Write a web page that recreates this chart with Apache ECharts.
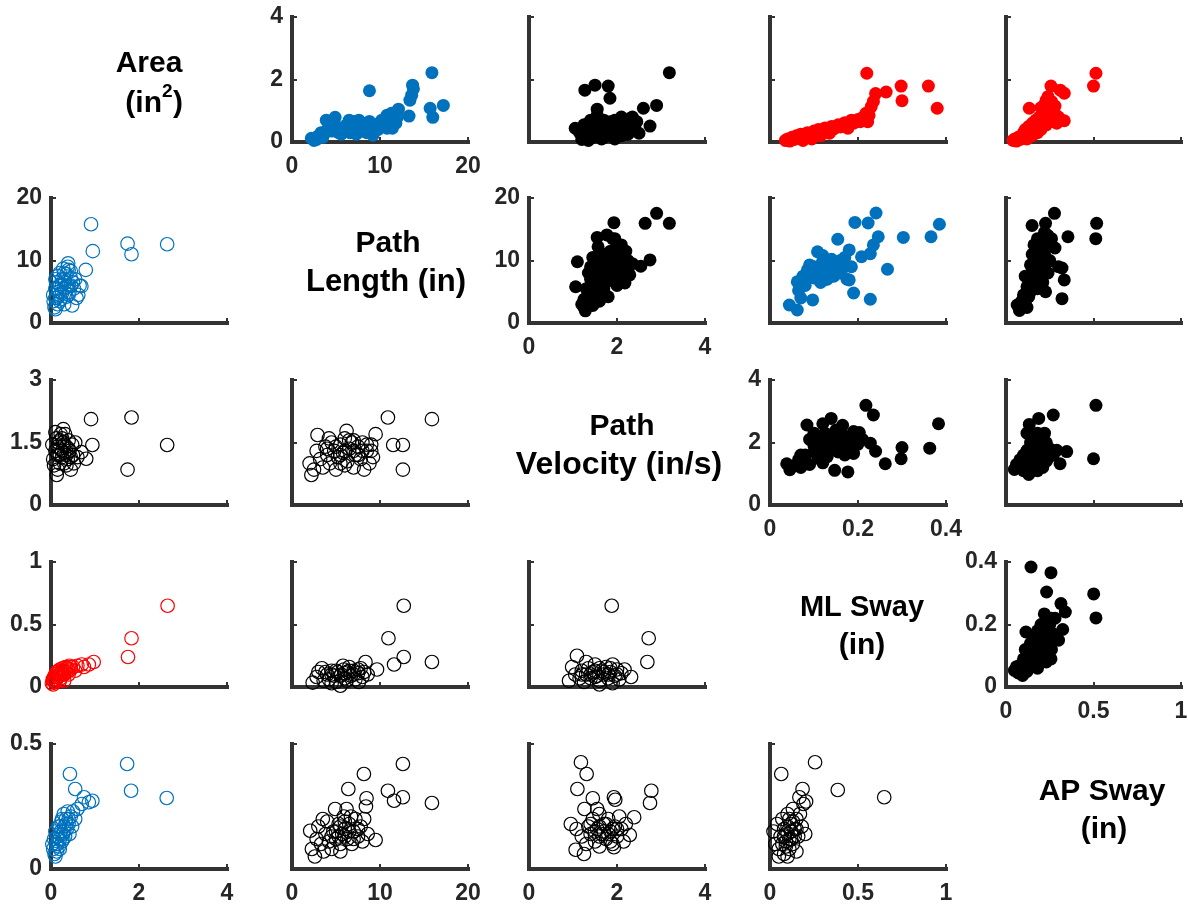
<!DOCTYPE html>
<html><head><meta charset="utf-8">
<script src="https://cdn.jsdelivr.net/npm/echarts@6/dist/echarts.min.js"></script>
<style>html,body{margin:0;padding:0;background:#fff}#c{width:1188px;height:907px}</style>
</head><body><div id="c"></div>
<script>
// ---- variable names (diagonal) ----
const varNames = [['Area', '(in', '2', ')'], ['Path', 'Length (in)'], ['Path', 'Velocity (in/s)'], ['ML Sway', '(in)'], ['AP Sway', '(in)']];

// ---- upper triangle (filled) : [x, y] ----
const p12 = [[2.2,0.12],[2.5,0.05],[2.8,0.08],[3.0,0.2],[3.3,0.3],[3.5,0.15],[3.9,0.7],[4.2,0.45],[4.5,0.35],[4.9,0.79],[5.0,0.5],[5.3,0.3],[5.6,0.25],[5.9,0.45],[6.2,0.55],[6.5,0.7],[6.6,0.3],[6.9,0.45],[7.1,0.66],[7.3,0.25],[7.5,0.5],[7.6,0.7],[7.9,0.35],[8.0,0.6],[8.3,0.45],[8.5,0.3],[8.8,0.66],[8.8,1.64],[9.0,0.45],[9.2,0.22],[9.5,0.55],[10.0,0.6],[10.4,0.5],[10.8,0.86],[10.8,0.44],[11.3,0.92],[11.4,0.44],[11.5,0.7],[12.1,1.05],[13.3,0.83],[13.4,1.34],[13.6,1.5],[13.8,1.7],[13.7,1.82],[15.7,1.08],[15.9,2.22],[16.0,0.79],[17.2,1.17],[4.0,0.4],[4.8,0.55],[5.5,0.45],[6.0,0.35],[6.8,0.55],[7.2,0.4],[8.2,0.55],[9.8,0.4],[10.2,0.7],[12.0,0.8],[11.8,0.6]];
const p13 = [[1.05,0.44],[1.15,0.3],[1.2,0.08],[1.27,1.66],[1.3,0.2],[1.35,0.05],[1.4,0.4],[1.45,0.15],[1.5,0.6],[1.5,1.82],[1.55,1.05],[1.55,0.3],[1.6,0.5],[1.65,0.1],[1.7,0.7],[1.75,0.35],[1.8,1.79],[1.8,0.55],[1.84,1.4],[1.85,0.2],[1.9,0.45],[1.95,0.7],[2.0,0.3],[2.05,0.6],[2.1,0.8],[2.15,0.4],[2.2,0.65],[2.25,0.25],[2.3,0.75],[2.4,0.5],[2.5,0.28],[2.6,1.08],[2.75,0.51],[2.9,1.17],[3.19,2.22],[1.25,0.55],[1.7,0.15],[1.95,0.1],[2.35,0.8],[1.3,0.35],[1.45,0.5],[1.6,0.25],[1.75,0.5],[1.85,0.65],[2.0,0.45],[2.1,0.2],[2.2,0.5],[2.3,0.35],[2.45,0.65],[1.4,0.7],[1.55,0.85]];
const p14 = [[0.035,0.05],[0.04,0.1],[0.045,0.03],[0.05,0.15],[0.055,0.08],[0.06,0.2],[0.065,0.12],[0.07,0.25],[0.075,0.05],[0.08,0.18],[0.085,0.3],[0.09,0.2],[0.1,0.35],[0.105,0.25],[0.11,0.4],[0.12,0.3],[0.125,0.45],[0.13,0.38],[0.14,0.5],[0.145,0.42],[0.155,0.55],[0.16,0.48],[0.17,0.62],[0.175,0.55],[0.177,0.44],[0.185,0.7],[0.19,0.6],[0.2,0.72],[0.205,0.65],[0.21,0.78],[0.218,0.92],[0.222,0.65],[0.225,0.85],[0.23,1.13],[0.235,1.3],[0.24,1.55],[0.22,2.2],[0.264,1.6],[0.298,1.79],[0.30,1.32],[0.36,1.79],[0.38,1.08],[0.095,0.1],[0.115,0.2],[0.135,0.28]];
const p15 = [[0.04,0.05],[0.05,0.1],[0.06,0.03],[0.07,0.15],[0.08,0.08],[0.09,0.2],[0.1,0.12],[0.1,0.3],[0.11,0.4],[0.12,0.25],[0.13,0.5],[0.133,1.08],[0.14,0.35],[0.15,0.6],[0.16,0.45],[0.17,0.7],[0.18,0.3],[0.18,0.55],[0.19,0.8],[0.2,0.65],[0.2,0.4],[0.21,0.9],[0.22,0.75],[0.22,1.0],[0.23,1.34],[0.23,0.55],[0.24,1.24],[0.24,0.85],[0.25,1.1],[0.25,0.65],[0.26,0.95],[0.257,1.79],[0.27,0.75],[0.28,0.9],[0.29,0.6],[0.3,0.8],[0.31,1.66],[0.333,1.56],[0.333,0.68],[0.5,1.79],[0.514,2.2],[0.15,0.2],[0.12,0.1],[0.2,1.1],[0.22,1.2],[0.24,1.45],[0.26,1.3],[0.28,1.15],[0.27,1.0]];
const p23 = [[1.06,5.8],[1.1,9.8],[1.2,3.0],[1.25,2.5],[1.28,1.95],[1.3,4.0],[1.35,3.2],[1.4,5.0],[1.4,7.0],[1.45,2.8],[1.5,6.0],[1.5,8.5],[1.55,13.7],[1.55,4.5],[1.57,12.2],[1.6,7.5],[1.6,3.5],[1.65,9.5],[1.7,5.5],[1.7,8.0],[1.75,6.5],[1.77,14.1],[1.8,10.0],[1.8,4.2],[1.85,7.0],[1.9,11.0],[1.9,8.5],[1.93,16.05],[1.95,13.5],[1.95,9.5],[2.0,12.0],[2.0,6.0],[2.05,10.5],[2.1,8.0],[2.15,11.0],[2.18,6.4],[2.2,9.0],[2.25,10.0],[2.29,7.7],[2.35,9.5],[2.54,9.1],[2.64,15.95],[2.75,10.1],[2.9,17.55],[3.19,15.95],[1.45,10.5],[1.35,8.0],[1.3,5.5],[1.5,4.0],[1.6,6.0],[1.65,7.0],[1.75,9.0],[1.85,11.5],[2.0,9.0],[2.05,7.5],[2.1,12.5],[1.7,11.0],[1.4,9.0],[1.25,3.8],[2.2,11.5],[1.9,13.5]];
const p24 = [[0.044,2.88],[0.062,2.08],[0.062,6.6],[0.065,5.2],[0.07,4.0],[0.075,7.5],[0.08,6.0],[0.085,8.5],[0.09,9.3],[0.097,3.7],[0.1,7.2],[0.105,8.0],[0.108,11.4],[0.11,9.0],[0.115,6.5],[0.12,10.0],[0.123,6.9],[0.13,8.5],[0.135,9.5],[0.14,10.2],[0.145,7.5],[0.15,9.0],[0.154,13.4],[0.16,8.0],[0.165,9.5],[0.17,10.5],[0.175,7.0],[0.18,11.7],[0.18,6.9],[0.185,9.0],[0.19,4.8],[0.193,16.1],[0.208,10.6],[0.223,16],[0.228,11.1],[0.228,3.8],[0.235,12.5],[0.241,17.6],[0.246,13.8],[0.267,8.6],[0.303,13.7],[0.366,13.8],[0.385,15.8],[0.09,7.5],[0.1,9.0],[0.12,8.5],[0.13,7.0],[0.14,9.5],[0.16,10.0],[0.17,9.0],[0.12,10.8],[0.08,7.0],[0.15,8.2]];
const p25 = [[0.064,2.88],[0.077,2.0],[0.09,3.5],[0.1,4.5],[0.11,3.0],[0.12,5.8],[0.13,7.0],[0.13,4.2],[0.14,9.3],[0.15,8.0],[0.149,15.6],[0.15,6.0],[0.16,10.5],[0.17,7.5],[0.17,11.5],[0.18,9.0],[0.19,12.0],[0.19,8.0],[0.2,10.0],[0.21,13.0],[0.21,6.5],[0.22,11.0],[0.226,5.0],[0.226,15.95],[0.23,12.5],[0.24,14.0],[0.25,10.0],[0.26,13.5],[0.277,17.55],[0.28,12.0],[0.3,9.0],[0.32,8.8],[0.32,3.9],[0.333,6.9],[0.354,13.8],[0.513,13.5],[0.518,15.95],[0.12,2.5],[0.18,5.5],[0.24,8.0],[0.15,11],[0.16,12.5],[0.17,9.5],[0.18,13.5],[0.2,11.5],[0.22,14.5],[0.14,5.0],[0.16,6.8],[0.19,10.5],[0.23,9.5],[0.11,7.5]];
const p34 = [[0.038,1.32],[0.045,1.13],[0.055,1.25],[0.065,1.45],[0.07,1.2],[0.08,1.6],[0.084,2.56],[0.09,2.1],[0.09,1.3],[0.1,1.9],[0.1,2.3],[0.11,1.5],[0.115,2.0],[0.12,1.75],[0.125,2.3],[0.13,1.55],[0.135,2.1],[0.139,2.77],[0.14,1.85],[0.147,1.11],[0.15,2.4],[0.155,1.7],[0.16,2.0],[0.165,2.55],[0.17,1.6],[0.177,1.06],[0.18,1.9],[0.185,2.2],[0.19,1.65],[0.2,1.95],[0.203,2.32],[0.21,2.1],[0.218,3.19],[0.228,1.98],[0.235,2.88],[0.24,1.72],[0.262,1.32],[0.298,1.48],[0.30,1.84],[0.363,1.82],[0.383,2.6],[0.07,1.6],[0.12,2.6],[0.1,1.7],[0.11,2.2],[0.13,1.9],[0.15,2.1],[0.16,1.8],[0.18,2.05],[0.19,2.35],[0.14,2.2],[0.08,1.4],[0.12,1.35],[0.17,2.2],[0.2,2.15]];
const p35 = [[0.048,1.14],[0.06,1.3],[0.07,1.2],[0.08,1.45],[0.09,1.35],[0.1,1.6],[0.1,1.1],[0.11,1.5],[0.12,1.75],[0.13,0.98],[0.13,1.3],[0.133,2.58],[0.14,2.0],[0.14,1.6],[0.15,1.85],[0.15,2.2],[0.16,1.4],[0.17,2.0],[0.17,1.7],[0.18,2.3],[0.187,2.77],[0.19,1.5],[0.2,1.9],[0.2,2.2],[0.21,1.2],[0.22,1.7],[0.23,2.0],[0.24,1.5],[0.25,1.8],[0.27,2.88],[0.27,1.6],[0.29,1.75],[0.309,1.32],[0.347,1.71],[0.5,1.48],[0.514,3.19],[0.18,1.1],[0.12,2.3],[0.12,1.5],[0.14,1.8],[0.16,1.9],[0.16,2.1],[0.18,1.6],[0.19,2.05],[0.21,1.8],[0.22,2.3],[0.15,1.25],[0.2,1.4],[0.23,1.4]];
const p45 = [[0.048,0.053],[0.06,0.065],[0.07,0.045],[0.08,0.07],[0.095,0.037],[0.1,0.09],[0.11,0.12],[0.114,0.176],[0.12,0.08],[0.13,0.1],[0.14,0.14],[0.143,0.384],[0.15,0.11],[0.16,0.16],[0.17,0.07],[0.17,0.13],[0.18,0.18],[0.19,0.1],[0.2,0.15],[0.2,0.2],[0.21,0.12],[0.219,0.234],[0.22,0.17],[0.23,0.08],[0.232,0.304],[0.24,0.14],[0.25,0.2],[0.257,0.366],[0.257,0.09],[0.26,0.12],[0.27,0.17],[0.28,0.22],[0.3,0.15],[0.314,0.267],[0.324,0.184],[0.339,0.24],[0.501,0.298],[0.514,0.221],[0.15,0.07],[0.16,0.09],[0.18,0.12],[0.19,0.15],[0.2,0.1],[0.21,0.17],[0.22,0.13],[0.23,0.2],[0.24,0.1],[0.25,0.16],[0.26,0.22],[0.18,0.06],[0.12,0.05]];

// ---- lower triangle (open) : [x, y] ----
const p21 = [[0.05,4.5],[0.06,3.5],[0.08,2.5],[0.1,5.5],[0.1,2.2],[0.12,6.5],[0.13,4.0],[0.15,3.0],[0.15,7.5],[0.18,5.0],[0.2,8.0],[0.2,6.0],[0.22,3.8],[0.25,7.0],[0.25,4.8],[0.28,8.7],[0.3,5.5],[0.3,3.0],[0.32,6.5],[0.35,7.8],[0.35,4.2],[0.38,9.0],[0.39,9.55],[0.4,6.0],[0.42,5.0],[0.45,7.2],[0.45,8.3],[0.48,2.8],[0.5,6.5],[0.52,5.5],[0.55,7.0],[0.58,4.0],[0.62,4.5],[0.65,6.0],[0.69,5.9],[0.79,8.5],[0.91,15.8],[0.95,11.5],[1.74,12.7],[1.83,11.0],[2.64,12.6],[0.1,7.0],[0.2,3.5],[0.3,8.0],[0.15,5.5],[0.25,6.2],[0.3,7.0],[0.35,5.8],[0.4,8.5],[0.45,6.0],[0.2,4.5],[0.1,4.0],[0.4,4.5]];
const p31 = [[0.03,1.45],[0.05,1.1],[0.07,0.95],[0.1,1.3],[0.12,1.6],[0.13,0.72],[0.15,1.2],[0.17,1.5],[0.2,1.0],[0.2,1.35],[0.22,1.7],[0.25,1.15],[0.28,1.82],[0.28,1.5],[0.3,1.25],[0.32,1.7],[0.35,1.4],[0.35,0.95],[0.38,1.1],[0.4,1.55],[0.42,1.3],[0.45,0.85],[0.48,1.45],[0.5,1.2],[0.52,1.0],[0.55,1.5],[0.6,1.15],[0.69,1.27],[0.8,1.11],[0.91,2.06],[0.94,1.44],[1.74,0.85],[1.83,2.1],[2.64,1.44],[0.15,0.85],[0.25,1.6],[0.1,1.75],[0.15,1.4],[0.2,1.55],[0.25,1.3],[0.3,1.45],[0.35,1.2],[0.3,1.0],[0.4,1.35],[0.45,1.15],[0.2,1.2]];
const p32 = [[2.0,1.0],[2.2,0.72],[2.5,0.85],[2.8,1.3],[2.9,1.68],[3.2,1.1],[3.5,0.9],[3.8,1.4],[4.0,1.2],[4.3,1.0],[4.5,1.5],[4.8,1.3],[5.0,0.85],[5.2,1.15],[5.5,1.45],[5.8,1.25],[6.0,1.6],[6.2,1.78],[6.3,1.05],[6.5,1.35],[6.8,1.5],[7.0,0.9],[7.2,1.2],[7.5,1.4],[7.8,1.1],[8.0,1.5],[8.2,0.85],[8.5,1.3],[8.8,1.0],[9.0,1.45],[9.2,1.15],[9.5,1.7],[10.9,2.1],[11.5,1.44],[12.6,1.44],[12.6,0.85],[15.9,2.06],[4.2,1.6],[6.0,0.95],[4.0,1.35],[5.0,1.4],[5.5,1.2],[6.0,1.3],[6.5,1.55],[7.0,1.3],[7.5,1.2],[8.0,1.3],[8.5,1.45],[5.5,1.0],[7.0,1.55],[9.0,1.3]];
const p41 = [[0.02,0.03],[0.04,0.06],[0.05,0.02],[0.07,0.08],[0.08,0.04],[0.1,0.1],[0.12,0.06],[0.13,0.12],[0.15,0.08],[0.17,0.13],[0.18,0.1],[0.2,0.14],[0.22,0.07],[0.24,0.12],[0.26,0.15],[0.28,0.1],[0.3,0.13],[0.33,0.16],[0.35,0.12],[0.38,0.15],[0.4,0.1],[0.42,0.17],[0.45,0.14],[0.5,0.16],[0.55,0.13],[0.6,0.17],[0.7,0.18],[0.75,0.16],[0.86,0.18],[0.97,0.2],[1.75,0.24],[1.83,0.39],[2.65,0.65],[0.1,0.04],[0.3,0.05],[0.15,0.11],[0.2,0.09],[0.25,0.13],[0.3,0.1],[0.35,0.15],[0.4,0.13],[0.45,0.16],[0.2,0.05],[0.05,0.05]];
const p42 = [[2.35,0.035],[2.8,0.08],[3.0,0.12],[3.4,0.15],[3.6,0.05],[4.0,0.1],[4.2,0.06],[4.5,0.13],[4.8,0.09],[5.0,0.04],[5.2,0.12],[5.5,0.01],[5.6,0.1],[5.9,0.14],[6.0,0.07],[6.3,0.12],[6.5,0.16],[6.7,0.09],[7.0,0.13],[7.2,0.06],[7.5,0.11],[7.8,0.15],[8.0,0.08],[8.35,0.2],[8.2,0.12],[8.6,0.1],[9.66,0.14],[10.96,0.39],[11.6,0.18],[12.7,0.24],[12.7,0.65],[15.9,0.2],[5.8,0.17],[4.5,0.03],[7.6,0.04],[4.5,0.1],[5.0,0.13],[5.5,0.09],[6.0,0.11],[6.5,0.13],[7.0,0.1],[7.5,0.14],[6.2,0.05],[3.8,0.12]];
const p43 = [[0.91,0.05],[0.98,0.16],[1.05,0.1],[1.09,0.25],[1.15,0.07],[1.2,0.13],[1.25,0.04],[1.3,0.1],[1.35,0.15],[1.4,0.07],[1.45,0.12],[1.5,0.18],[1.55,0.09],[1.6,0.05],[1.65,0.13],[1.7,0.1],[1.75,0.16],[1.8,0.07],[1.85,0.12],[1.9,0.03],[1.9,0.18],[1.95,0.09],[2.0,0.14],[2.05,0.06],[2.1,0.11],[2.17,0.14],[2.32,0.08],[2.69,0.2],[2.72,0.39],[1.88,0.65],[1.3,0.2],[1.6,0.02],[1.4,0.1],[1.5,0.13],[1.6,0.15],[1.7,0.12],[1.8,0.1],[1.85,0.15],[1.5,0.08],[2.0,0.1],[1.2,0.1]];
const p51 = [[0.03,0.1],[0.05,0.08],[0.07,0.12],[0.08,0.06],[0.1,0.15],[0.12,0.1],[0.13,0.07],[0.15,0.13],[0.17,0.17],[0.18,0.09],[0.2,0.12],[0.22,0.15],[0.24,0.19],[0.25,0.11],[0.27,0.14],[0.29,0.22],[0.3,0.17],[0.32,0.13],[0.34,0.2],[0.36,0.16],[0.38,0.23],[0.4,0.18],[0.42,0.14],[0.45,0.21],[0.48,0.17],[0.5,0.23],[0.55,0.2],[0.55,0.32],[0.43,0.38],[0.6,0.24],[0.7,0.26],[0.75,0.287],[0.86,0.267],[0.94,0.273],[1.73,0.42],[1.82,0.313],[2.63,0.284],[0.1,0.05],[0.2,0.08],[0.2,0.17],[0.25,0.2],[0.3,0.15],[0.35,0.18],[0.28,0.12],[0.15,0.1],[0.4,0.2],[0.2,0.14]];
const p52 = [[2.07,0.153],[2.26,0.08],[2.6,0.05],[2.8,0.12],[3.0,0.17],[3.3,0.1],[3.6,0.07],[3.8,0.14],[4.0,0.19],[4.2,0.11],[4.5,0.08],[4.7,0.15],[4.9,0.24],[5.0,0.12],[5.3,0.18],[5.5,0.1],[5.7,0.14],[5.9,0.21],[6.0,0.16],[6.2,0.24],[6.3,0.12],[6.4,0.32],[6.5,0.18],[6.8,0.1],[7.0,0.15],[7.2,0.2],[7.5,0.13],[7.8,0.17],[8.0,0.11],[8.17,0.38],[8.2,0.2],[8.4,0.25],[8.47,0.283],[8.6,0.14],[9.5,0.116],[10.9,0.313],[11.6,0.273],[12.6,0.287],[12.6,0.42],[15.9,0.264],[5.5,0.07],[3.5,0.2],[5.0,0.15],[5.5,0.17],[6.0,0.13],[6.5,0.15],[7.0,0.12],[7.5,0.16],[6.0,0.19],[5.3,0.13],[6.7,0.21],[4.5,0.13]];
const p53 = [[0.95,0.18],[1.06,0.077],[1.08,0.16],[1.1,0.32],[1.18,0.427],[1.2,0.13],[1.26,0.24],[1.3,0.1],[1.31,0.38],[1.35,0.17],[1.4,0.14],[1.45,0.283],[1.45,0.2],[1.5,0.11],[1.55,0.16],[1.6,0.22],[1.6,0.09],[1.65,0.14],[1.7,0.18],[1.75,0.12],[1.8,0.2],[1.85,0.15],[1.9,0.1],[1.93,0.287],[1.93,0.087],[1.96,0.277],[1.95,0.17],[2.0,0.13],[2.05,0.21],[2.1,0.16],[2.15,0.11],[2.2,0.18],[2.29,0.136],[2.39,0.207],[2.75,0.264],[2.78,0.313],[1.55,0.24],[1.25,0.06],[1.5,0.15],[1.6,0.13],[1.7,0.15],[1.8,0.14],[1.9,0.16],[1.75,0.18],[2.0,0.16],[1.6,0.17],[1.85,0.11],[1.4,0.18]];
const p54 = [[0.02,0.15],[0.03,0.1],[0.04,0.18],[0.05,0.08],[0.06,0.13],[0.064,0.38],[0.07,0.2],[0.08,0.06],[0.08,0.16],[0.09,0.11],[0.1,0.22],[0.1,0.14],[0.11,0.08],[0.12,0.18],[0.12,0.12],[0.13,0.24],[0.13,0.1],[0.14,0.16],[0.15,0.2],[0.15,0.07],[0.16,0.13],[0.167,0.287],[0.17,0.22],[0.18,0.17],[0.185,0.32],[0.19,0.26],[0.2,0.14],[0.205,0.27],[0.256,0.427],[0.385,0.316],[0.649,0.287],[0.05,0.05],[0.1,0.05],[0.08,0.13],[0.1,0.17],[0.11,0.12],[0.12,0.15],[0.13,0.19],[0.14,0.13],[0.09,0.09],[0.11,0.2],[0.15,0.16],[0.07,0.1]];

// ---- styling / layout ----
const BLUE = '#0072BD', RED = '#FF0000', BLACK = '#000000', AX = '#333333';
const colL = [51, 292, 529, 770, 1006];
const rowT = [17, 198, 380, 562, 744];
const W = 176, H = 125;
const FONT = 'Liberation Sans, Arial, sans-serif';

const panels = [
  {r:0,c:1,d:p12,xm:20,ym:4,col:BLUE,fill:true,xl:true,yl:true},
  {r:0,c:2,d:p13,xm:4,ym:4,col:BLACK,fill:true},
  {r:0,c:3,d:p14,xm:0.4,ym:4,col:RED,fill:true},
  {r:0,c:4,d:p15,xm:1,ym:4,col:RED,fill:true},
  {r:1,c:0,d:p21,xm:4,ym:20,col:BLUE,fill:false,yl:true},
  {r:1,c:2,d:p23,xm:4,ym:20,col:BLACK,fill:true,xl:true,yl:true},
  {r:1,c:3,d:p24,xm:0.4,ym:20,col:BLUE,fill:true},
  {r:1,c:4,d:p25,xm:1,ym:20,col:BLACK,fill:true},
  {r:2,c:0,d:p31,xm:4,ym:3,col:BLACK,fill:false,yl:true},
  {r:2,c:1,d:p32,xm:20,ym:3,col:BLACK,fill:false},
  {r:2,c:3,d:p34,xm:0.4,ym:4,col:BLACK,fill:true,xl:true,yl:true},
  {r:2,c:4,d:p35,xm:1,ym:4,col:BLACK,fill:true},
  {r:3,c:0,d:p41,xm:4,ym:1,col:RED,fill:false,yl:true},
  {r:3,c:1,d:p42,xm:20,ym:1,col:BLACK,fill:false},
  {r:3,c:2,d:p43,xm:4,ym:1,col:BLACK,fill:false},
  {r:3,c:4,d:p45,xm:1,ym:0.4,col:BLACK,fill:true,xl:true,yl:true},
  {r:4,c:0,d:p51,xm:4,ym:0.5,yi:0.5,col:BLUE,fill:false,xl:true,yl:true},
  {r:4,c:1,d:p52,xm:20,ym:0.5,yi:0.5,col:BLACK,fill:false,xl:true},
  {r:4,c:2,d:p53,xm:4,ym:0.5,yi:0.5,col:BLACK,fill:false,xl:true},
  {r:4,c:3,d:p54,xm:1,ym:0.5,yi:0.5,col:BLACK,fill:false,xl:true}
];

const fmt = v => String(+v.toFixed(3));
const lab = (show, margin, pad) => ({show: !!show, fontSize: 23, fontWeight: 'bold', color: '#262626', fontFamily: FONT, margin: margin, padding: pad, formatter: fmt, showMinLabel: true, showMaxLabel: true});
const axLine = {show: true, onZero: false, lineStyle: {color: AX, width: 4, cap: 'square'}};
const axTick = {show: true, inside: true, length: 5, lineStyle: {color: AX, width: 2}};

const option = {
  animation: false,
  backgroundColor: '#fff',
  grid: panels.map(p => ({left: colL[p.c], top: rowT[p.r], width: p.c === 4 ? 175 : W, height: H, outerBoundsMode: 'none', containLabel: false})),
  xAxis: panels.map((p, i) => ({gridIndex: i, type: 'value', min: 0, max: p.xm, interval: p.xm / 2,
    axisLine: axLine, axisTick: axTick, axisLabel: lab(p.xl, 13, [0, 0, 0, 0]), splitLine: {show: false}})),
  yAxis: panels.map((p, i) => ({gridIndex: i, type: 'value', min: 0, max: p.ym, interval: p.yi || p.ym / 2,
    axisLine: axLine, axisTick: axTick, axisLabel: lab(p.yl, 9, [8, 0, 0, 0]), splitLine: {show: false}})),
  series: panels.map((p, i) => ({type: 'scatter', xAxisIndex: i, yAxisIndex: i, data: p.d,
    symbol: 'circle', symbolSize: p.fill ? 13 : 13.5, silent: true,
    itemStyle: p.fill ? {color: p.col, opacity: 1} : {color: 'rgba(0,0,0,0)', borderColor: p.col, borderWidth: 1.2, opacity: 1},
    emphasis: {disabled: true}})),
  graphic: []
};

const T = (text, x, y, size, align) => ({type: 'text', x: x, y: y, silent: true,
  style: {text: text, fontSize: size || 30, fontWeight: 'bold', fontFamily: FONT, fill: '#000', textAlign: align || 'center', textVerticalAlign: 'middle'}});
option.graphic = [
  T(varNames[0][0], 149, 64),
  T(varNames[0][1], 162, 104, 30, 'right'),
  T(varNames[0][2], 162, 92, 19, 'left'),
  T(varNames[0][3], 173, 104, 30, 'left'),
  T(varNames[1][0], 388, 244),
  T(varNames[1][1], 386, 282, 31),
  T(varNames[2][0], 622, 427),
  T(varNames[2][1], 619, 465, 32),
  T(varNames[3][0], 862, 608, 29),
  T(varNames[3][1], 862, 646),
  T(varNames[4][0], 1102, 792),
  T(varNames[4][1], 1104, 830)
];

const chart = echarts.init(document.getElementById('c'), null, {renderer: 'canvas'});
chart.setOption(option);
</script>
</body></html>
